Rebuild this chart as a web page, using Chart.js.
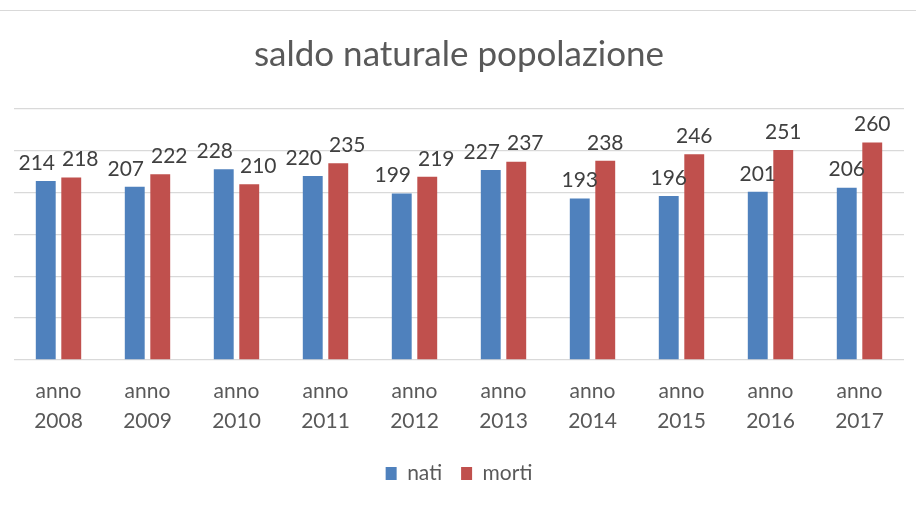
<!DOCTYPE html>
<html>
<head>
<meta charset="utf-8">
<script src="https://cdn.jsdelivr.net/npm/chart.js@4"></script>
<style>
    html, body { margin: 0; padding: 0; background: #fff; }
    #wrap { width: 916px; height: 507px; position: relative; }
</style>
</head>
<body>
<div id="wrap"><canvas id="myChart"></canvas></div>
<script>
const anni = ['2008', '2009', '2010', '2011', '2012', '2013', '2014', '2015', '2016', '2017'];
const nati = [214, 207, 228, 220, 199, 227, 193, 196, 201, 206];
const morti = [218, 222, 210, 235, 219, 237, 238, 246, 251, 260];

//labels on top of each bar, pushed apart sideways when the pair would collide
const valueLabels = {
    id: 'valueLabels',
    afterDatasetsDraw(chart) {
        let ctx = chart.ctx;
        let m0 = chart.getDatasetMeta(0).data;
        let m1 = chart.getDatasetMeta(1).data;
        ctx.save();
        ctx.font = '21px Lato';
        ctx.fillStyle = '#404040';
        ctx.textAlign = 'center';
        m0.forEach(function (bar, j) {
            let other = m1[j];
            let shift = Math.abs(bar.y - other.y) < 17 ? 9 : 0;
            ctx.fillText(nati[j], bar.x - shift, bar.y - 18);
            ctx.fillText(morti[j], other.x + shift, other.y - 18);
        });
        ctx.restore();
    }
};

//thin frame line at the top
const topLine = {
    id: 'topLine',
    beforeDraw(chart) {
        let ctx = chart.ctx;
        ctx.save();
        ctx.fillStyle = '#fff';
        ctx.fillRect(0, 0, chart.width, chart.height);
        ctx.strokeStyle = '#d9d9d9';
        ctx.lineWidth = 1;
        ctx.beginPath();
        ctx.moveTo(0, 10.5);
        ctx.lineTo(chart.width, 10.5);
        ctx.stroke();
        ctx.restore();
    }
};

new Chart(document.getElementById('myChart'), {
    type: 'bar',
    data: {
        labels: anni.map(a => ['anno', a]),
        datasets: [{
            label: 'nati',
            data: nati,
            backgroundColor: '#4F81BD',
            barPercentage: 0.78,
            categoryPercentage: 0.573
        }, {
            label: 'morti',
            data: morti,
            backgroundColor: '#C0504D',
            barPercentage: 0.78,
            categoryPercentage: 0.573
        }]
    },
    options: {
        responsive: true,
        maintainAspectRatio: false,
        animation: false,
        layout: {padding: {left: 14, right: 12, top: 20, bottom: 13}},
        scales: {
            x: {
                grid: {display: false},
                border: {display: false},
                ticks: {
                    color: '#595959',
                    font: {family: 'Lato', size: 21, lineHeight: 1.43},
                    padding: 8,
                    maxRotation: 0
                }
            },
            y: {
                min: 0,
                max: 300,
                ticks: {display: false, stepSize: 50},
                grid: {color: '#d9d9d9', lineWidth: 1.3, drawTicks: false},
                border: {display: false}
            }
        },
        plugins: {
            title: {
                display: true,
                text: 'saldo naturale popolazione',
                color: '#595959',
                font: {family: 'Lato', size: 35, weight: 'normal'},
                padding: {top: 14, bottom: 33}
            },
            legend: {
                position: 'bottom',
                labels: {
                    color: '#595959',
                    font: {family: 'Lato', size: 21},
                    boxWidth: 11,
                    boxHeight: 13,
                    padding: 19
                }
            },
            tooltip: {enabled: false}
        }
    },
    plugins: [topLine, valueLabels]
});
</script>
</body>
</html>
